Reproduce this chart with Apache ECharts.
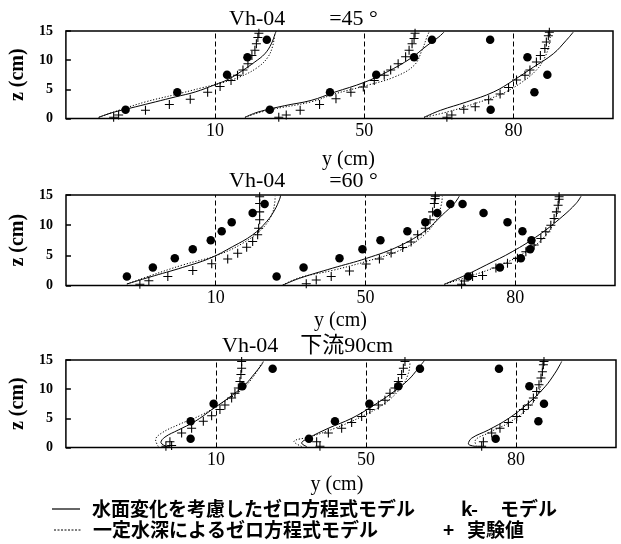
<!DOCTYPE html>
<html>
<head>
<meta charset="utf-8">
<script src="https://cdn.jsdelivr.net/npm/echarts@6/dist/echarts.min.js"></script>
<style>html,body{margin:0;background:#fff}#chart{width:621px;height:544px}</style>
</head>
<body>
<div id="chart"></div>
<script>
// horizontal axis is in drawing units; dashed guides mark y = 10, 50, 80 cm
var guideX = [150, 300, 450];
var guideLabels = ['10', '50', '80'];
var zTicks = [0, 5, 10, 15];

// panel 1 : =45°
var p1Solid = [
  [[33,0.2],[46.5,1.0],[70,2.0],[90,2.85],[110,3.7],[130,4.55],[150,5.8],[163,6.7],[176.5,8.1],[190,9.7],[200,11.1],[206.5,12.8],[210.5,14.6],[211.5,15]],
  [[180,0.2],[193,1.1],[220,2.2],[246.5,3.1],[270,4.5],[300,6.2],[323,8.0],[346.5,10.3],[363,12.5],[375,14.0],[380,14.8]],
  [[360,0.2],[376.5,1.4],[403,2.85],[430,4.55],[450,6.55],[470,8.8],[490,11.1],[503,13.4],[510,14.8]]
];
var p1Dotted = [
  [[33,0.2],[53,1.4],[80,2.85],[110,4.1],[136.5,5.25],[156.5,6.1],[176.5,7.25],[193,8.8],[203,10.5],[208,12.5],[210,14.6]],
  [[180,0.2],[203,1.4],[246.5,2.85],[270,4.2],[303,5.7],[330,7.1],[350,9.1],[358,11.7],[363,14.0],[365,14.8]],
  [[360,0.2],[383,1.1],[410,2.5],[436.5,4.1],[456.5,6.0],[473,8.3],[481.5,10.5],[486,12.8],[487,14.6]]
];
var p1Plus = [
  [48,0.2],[53,0.6],[80,1.4],[104,2.4],[125,3.3],[142.5,4.5],[155,5.5],[166,6.5],[172.5,7.4],[178,8.3],[183,9.4],[187,10.8],[190,11.7],[191.5,12.8],[193,13.9],[194,14.6],
  [214,0.2],[221.5,0.6],[235.5,1.4],[255,2.4],[271.5,3.4],[286.5,4.5],[299,5.4],[310,6.5],[320,7.4],[326.5,8.3],[334,9.4],[341.5,10.6],[345,11.7],[348,12.8],[350,13.7],[351,14.6],
  [383,0.2],[388,0.6],[400,1.6],[411.5,2.0],[425,3.2],[436.5,4.2],[445,5.3],[453,6.6],[461.5,7.4],[466.5,8.3],[473,9.7],[477,10.8],[481.5,12.0],[483,13.1],[485,14.2],[486,14.8]
];
var p1Circle = [
  [60,1.5],[112,4.5],[162,7.5],[182.5,10.5],[202,13.5],
  [205,1.5],[265.5,4.5],[312,7.5],[350,10.5],[368,13.5],
  [427,1.5],[471,4.5],[484,7.5],[464,10.5],[426.5,13.5]
];

// panel 2 : =60°
var p2Solid = [
  [[61,0.25],[84,1.4],[117,3.0],[144,4.5],[167,6.45],[187,8.4],[201,10.6],[209,12.5],[214,14.3],[215,14.9]],
  [[217,0.05],[234,1.2],[267,2.87],[301,4.5],[334,6.55],[361,9.2],[377,11.7],[389,13.6],[394,14.8]],
  [[379,0.2],[401,1.77],[421,3.4],[447,5.6],[474,8.4],[497,11.4],[511,13.6],[516,14.8]]
];
var p2Dotted = [
  [[61,0.25],[84,1.6],[117,3.4],[151,5.0],[177,7.0],[197,9.5],[206,11.7],[209,13.6],[209.5,14.8]],
  [[217,0.05],[234,1.3],[267,2.5],[301,4.0],[334,5.8],[357,8.1],[371,10.9],[376,13.4],[377,14.8]],
  [[379,0.2],[404,1.5],[434,3.3],[461,5.6],[481,8.4],[491,11.4],[493.5,13.6],[493.5,14.8]]
];
var p2Plus = [
  [74,0.2],[83,0.8],[102,1.5],[127,2.5],[146,3.6],[162,4.4],[172,5.35],[181,6.35],[187,7.3],[192,8.4],[193,9.5],[194,10.9],[194,12.2],[194,13.6],[194,14.7],
  [240.7,0.3],[250.7,0.9],[265.7,1.5],[284,2.4],[300.7,3.55],[314,4.4],[325.7,5.4],[337.3,6.3],[345.7,7.2],[352.3,8.4],[360,9.5],[364.7,10.9],[367.3,12.2],[369,13.6],[369.7,14.4],[370,14.8],
  [396.3,0.2],[399,0.75],[407.3,1.5],[417.3,1.65],[430.7,2.9],[442.3,3.7],[452.3,4.5],[460.7,5.6],[469,6.7],[475.7,7.8],[480.7,8.9],[485.7,10.0],[489,11.1],[491.3,12.2],[493,13.3],[494,14.3],[494,14.7]
];
var p2Circle = [
  [61,1.5],[87,3],[109,4.5],[127,6],[145,7.5],[156,9],[166,10.5],[187,12],[199,13.5],
  [211,1.5],[238,3],[274,4.5],[297,6],[315,7.5],[342,9],[360,10.5],[372,12],[385,13.5],
  [403,1.5],[434.7,3],[455.7,4.5],[465,6],[466.3,7.5],[457.3,9],[442.3,10.5],[418.3,12],[397.3,13.5]
];

// panel 3 : 下流90cm
var p3Solid = [
  [[100.7,0.17],[95,0.86],[99,1.78],[112.4,3.0],[129,4.46],[145.7,6.47],[162.4,8.47],[179,10.75],[189,12.75],[195.7,14.2],[197.4,14.75]],
  [[240.7,0.17],[235.7,0.75],[242.4,1.6],[262.4,3.3],[285.7,5.0],[305.7,7.0],[325.7,9.3],[342.4,11.6],[352.4,13.6],[358.4,14.9]],
  [[410.7,0.17],[402.4,0.63],[405.7,1.6],[422.4,3.0],[442.4,4.96],[462.4,7.6],[479,10.4],[489,12.75],[494,14.2],[495.7,14.75]]
];
var p3Dotted = [
  [[92.4,0.17],[89.7,1.3],[95.7,2.47],[112.4,3.9],[135.7,5.6],[155.7,7.6],[175.7,9.9],[189,12.5],[195.7,14.5]],
  [[235.7,0.17],[228,1.0],[245.7,1.9],[269,3.3],[295.7,5.3],[319,7.6],[335.7,10.4],[342.4,12.7],[344,14.5]],
  [[410.7,0.17],[409,1.0],[422.4,2.5],[442.4,4.2],[462.4,6.8],[472.4,9.3],[475.7,11.6],[476.4,13.9],[476.4,14.75]]
];
var p3Plus = [
  [100,0.2],[105.7,0.35],[104,1.0],[115.7,2.5],[125.7,3.3],[137.4,4.5],[145.7,5.45],[154,6.5],[159,7.3],[165.7,8.5],[169,9.3],[172.4,10.2],[174,11.3],[175,12.5],[175.7,13.6],[175.7,14.75],
  [254,0.2],[250.7,1.0],[262.4,2.5],[275.7,3.3],[285.7,4.3],[295.7,5.3],[304,6.5],[312.4,7.3],[319,8.1],[324,9.3],[329,10.2],[332.4,11.3],[335.7,12.5],[337.4,13.6],[339,14.75],
  [415.7,0.2],[417.4,1.0],[425.7,2.5],[434,3.3],[442.4,4.3],[450.7,5.3],[457.4,6.5],[462.4,7.3],[467.4,8.5],[470.7,9.6],[473,10.75],[475,11.9],[476.4,13.0],[477.4,14.2],[478,14.75]
];
var p3Circle = [
  [124.7,1.5],[124.7,4.5],[147.7,7.5],[176.4,10.5],[206.7,13.5],
  [243,1.5],[269,4.5],[303.4,7.5],[332.4,10.5],[354,13.5],
  [429.7,1.5],[472.4,4.5],[478,7.5],[463.4,10.5],[433,13.5]
];

var plusPath = 'path://M4.4,0H5.6V4.4H10V5.6H5.6V10H4.4V5.6H0V4.4H4.4Z';
var serif = '"Liberation Serif", "Times New Roman", "Noto Sans CJK JP", serif';
var gothic = '"Noto Sans CJK JP", sans-serif';

var grids = [
  {left: 64, right: 8, top: 31, height: 87.5},
  {left: 66, right: 6, top: 195, height: 90.5},
  {left: 64, right: 5, top: 360, height: 87.5}
];
var nameGaps = [31, 25, 27];
var namePad = [[0, 0, 0, 18], [0, 0, 0, 0], [0, 8, 0, 0]];

var xAxes = [], yAxes = [], series = [];
grids.forEach(function(g, i){
  g.show = true; g.borderColor = '#000'; g.borderWidth = 1.5;
  xAxes.push({
    gridIndex: i, type: 'value', min: 0, max: 550, interval: 150,
    axisLine: {show: false}, axisTick: {show: false}, splitLine: {show: false},
    axisLabel: {margin: 4, color: '#000', fontFamily: serif, fontSize: 18,
      formatter: function(v){ var k = guideX.indexOf(v); return k < 0 ? '' : guideLabels[k]; }},
    name: 'y (cm)', nameLocation: 'middle', nameGap: nameGaps[i],
    nameTextStyle: {color: '#000', fontFamily: serif, fontSize: 20, padding: namePad[i]}
  });
  yAxes.push({
    gridIndex: i, type: 'value', min: 0, max: 15, interval: 5,
    axisLine: {show: false}, splitLine: {show: false},
    axisTick: {show: true, inside: true, length: 5, lineStyle: {color: '#000', width: 1.5}},
    axisLabel: {margin: 13, color: '#000', fontFamily: serif, fontSize: 14, fontWeight: 'bold'},
    name: 'z (cm)', nameLocation: 'middle', nameGap: 35,
    nameTextStyle: {color: '#000', fontFamily: serif, fontSize: 20, fontWeight: 'bold'}
  });
});

function addPanel(i, solid, dotted, plus, circle){
  solid.forEach(function(d){
    series.push({type: 'line', xAxisIndex: i, yAxisIndex: i, data: d, smooth: 0.4,
      symbol: 'none', lineStyle: {color: '#000', width: 1}});
  });
  dotted.forEach(function(d){
    series.push({type: 'line', xAxisIndex: i, yAxisIndex: i, data: d, smooth: 0.4,
      symbol: 'none', lineStyle: {color: '#000', width: 1, type: [1.2, 1.8]}});
  });
  series.push({type: 'scatter', xAxisIndex: i, yAxisIndex: i, data: plus,
    symbol: plusPath, symbolSize: 9, itemStyle: {color: '#000', opacity: 1}});
  series.push({type: 'scatter', xAxisIndex: i, yAxisIndex: i, data: circle,
    symbol: 'circle', symbolSize: 8.5, itemStyle: {color: '#000', opacity: 1},
    markLine: {silent: true, symbol: 'none', label: {show: false},
      lineStyle: {color: '#000', width: 1, type: [5, 3]},
      data: guideX.map(function(v){ return {xAxis: v}; })}});
}
addPanel(0, p1Solid, p1Dotted, p1Plus, p1Circle);
addPanel(1, p2Solid, p2Dotted, p2Plus, p2Circle);
addPanel(2, p3Solid, p3Dotted, p3Plus, p3Circle);

function txt(s, x, y, font, size, weight){
  return {type: 'text', x: x, y: y, style: {text: s, fill: '#000', font: (weight || 'normal') + ' ' + size + 'px ' + font, align: 'left', verticalAlign: 'middle'}};
}

var graphics = [
  txt('Vh-04        =45 °', 229, 19.5, serif, 22),
  txt('Vh-04        =60 °', 229, 181.5, serif, 22),
  txt('Vh-04    下流90cm', 222, 346.5, serif, 22),
  {type: 'line', shape: {x1: 52, y1: 509, x2: 80, y2: 509}, style: {stroke: '#000', lineWidth: 1.2}},
  {type: 'line', shape: {x1: 54, y1: 530, x2: 82, y2: 530}, style: {stroke: '#000', lineWidth: 1, lineDash: [2, 1.5]}},
  txt('水面変化を考慮したゼロ方程式モデル', 92, 509, gothic, 19, 'bold'),
  txt('k-', 461, 509, gothic, 19, 'bold'),
  txt('モデル', 500, 509, gothic, 19, 'bold'),
  txt('一定水深によるゼロ方程式モデル', 93, 530, gothic, 19, 'bold'),
  txt('+', 443, 530, gothic, 19, 'bold'),
  txt('実験値', 467, 530, gothic, 19, 'bold')
];

var myChart = echarts.init(document.getElementById('chart'));
myChart.setOption({
  animation: false,
  backgroundColor: '#fff',
  grid: grids,
  xAxis: xAxes,
  yAxis: yAxes,
  series: series,
  graphic: graphics
});
</script>
</body>
</html>
